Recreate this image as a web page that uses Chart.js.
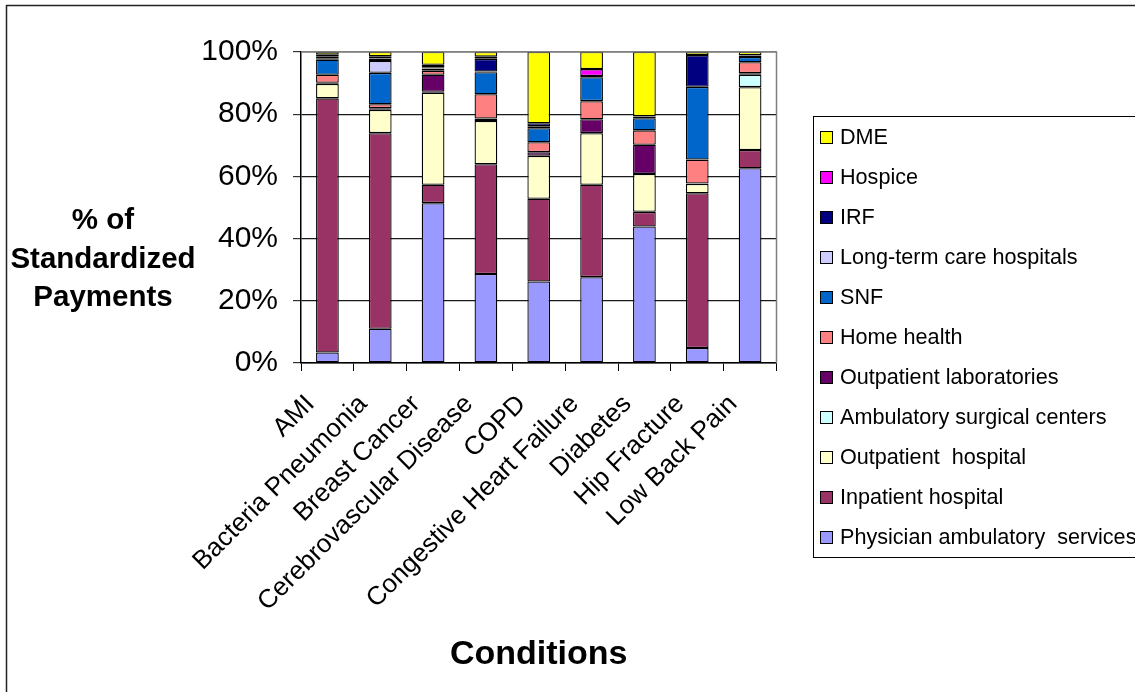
<!DOCTYPE html>
<html>
<head>
<meta charset="utf-8">
<script src="https://cdn.jsdelivr.net/npm/chart.js@4/dist/chart.umd.min.js"></script>
<style>
  html, body { margin: 0; padding: 0; background: #fff; overflow: hidden; }
  #wrap { width: 1135px; height: 692px; position: relative; }
</style>
</head>
<body>
<div id="wrap"><canvas id="c" width="1135" height="692"></canvas></div>
<script>
// Conditions on the x axis
const categories = ['AMI', 'Bacteria Pneumonia', 'Breast Cancer', 'Cerebrovascular Disease', 'COPD',
  'Congestive Heart Failure', 'Diabetes', 'Hip Fracture', 'Low Back Pain'];

// Share of standardized payments (%) by service, per condition
const physicianAmbulatory = [3.4, 11.0, 51.4, 28.6, 26.2, 27.6, 43.9, 4.8, 62.6];
const inpatientHospital   = [81.7, 62.9, 5.9, 35.3, 26.6, 29.7, 4.7, 49.8, 5.9];
const outpatientHospital  = [4.6, 7.5, 29.6, 13.9, 13.8, 16.6, 12.2, 3.0, 20.2];
const ambulatorySurgical  = [0.1, 0.0, 0.3, 0.0, 0.0, 0.0, 0.0, 0.0, 4.0];
const outpatientLabs      = [0.3, 0.5, 5.5, 0.8, 1.2, 4.5, 9.4, 0.1, 0.5];
const homeHealth          = [2.6, 1.3, 1.3, 7.8, 3.2, 5.8, 4.6, 7.7, 3.5];
const snf                 = [4.8, 10.1, 0.6, 7.1, 4.5, 7.7, 3.9, 23.4, 1.7];
const longTermCare        = [0.3, 3.8, 0.2, 0.2, 0.6, 0.0, 0.0, 0.0, 0.0];
const irf                 = [0.8, 0.8, 0.3, 4.1, 1.0, 0.4, 0.6, 10.2, 0.5];
const hospice             = [0.5, 0.7, 0.8, 0.7, 0.0, 2.2, 0.0, 0.0, 0.0];
const dme                 = [0.9, 1.4, 4.1, 1.5, 22.9, 5.5, 20.7, 1.0, 1.1];

// Axis tick values and titles
const yTickValues = [0, 20, 40, 60, 80, 100];
const yTitleLines = ['% of', 'Standardized', 'Payments'];
const xTitle = 'Conditions';

const FONT = '"Liberation Sans", Arial, Helvetica, sans-serif';

function ds(label, data, color) {
  return {
    label, data,
    backgroundColor: color,
    borderColor: '#000',
    borderWidth: 1.3,
    borderSkipped: false,
    categoryPercentage: 1.0,
    barPercentage: 0.43
  };
}

const datasets = [
  ds('Physician ambulatory  services', physicianAmbulatory, '#9999FF'),
  ds('Inpatient hospital', inpatientHospital, '#993366'),
  ds('Outpatient  hospital', outpatientHospital, '#FFFFCC'),
  ds('Ambulatory surgical centers', ambulatorySurgical, '#CCFFFF'),
  ds('Outpatient laboratories', outpatientLabs, '#660066'),
  ds('Home health', homeHealth, '#FF8080'),
  ds('SNF', snf, '#0066CC'),
  ds('Long-term care hospitals', longTermCare, '#CCCCFF'),
  ds('IRF', irf, '#000080'),
  ds('Hospice', hospice, '#FF00FF'),
  ds('DME', dme, '#FFFF00')
];

// Outer frame, plot-area border, horizontal y title and boxed legend
const decorations = {
  id: 'decorations',
  beforeDraw(chart) {
    const ctx = chart.ctx;
    ctx.save();
    ctx.fillStyle = '#fff';
    ctx.fillRect(0, 0, chart.width, chart.height);
    ctx.strokeStyle = '#222';
    ctx.lineWidth = 1.5;
    ctx.beginPath();
    ctx.moveTo(6, 5.5); ctx.lineTo(chart.width, 5.5);
    ctx.moveTo(6.5, 5); ctx.lineTo(6.5, chart.height);
    ctx.stroke();
    ctx.restore();
  },
  afterDraw(chart) {
    const ctx = chart.ctx;
    const a = chart.chartArea;
    ctx.save();
    // plot area border (top and right)
    ctx.strokeStyle = '#808080';
    ctx.lineWidth = 1.5;
    ctx.beginPath();
    ctx.moveTo(a.left, a.top); ctx.lineTo(a.right, a.top); ctx.lineTo(a.right, a.bottom);
    ctx.stroke();

    // y-axis title, horizontal and centred
    ctx.fillStyle = '#000';
    ctx.font = 'bold 29.5px ' + FONT;
    ctx.textAlign = 'center';
    ctx.textBaseline = 'middle';
    yTitleLines.forEach((t, i) => ctx.fillText(t, 103, 221 + i * 38.5));

    // legend box
    ctx.strokeStyle = '#000';
    ctx.lineWidth = 1;
    ctx.strokeRect(813.5, 116.5, 400, 441);
    ctx.font = '21.6px ' + FONT;
    ctx.textAlign = 'left';
    const items = chart.data.datasets.slice().reverse();
    items.forEach((d, i) => {
      const y = 137 + i * 40;
      ctx.fillStyle = d.backgroundColor;
      ctx.fillRect(820, y - 6, 13, 13);
      ctx.strokeStyle = '#000';
      ctx.strokeRect(820.5, y - 5.5, 12, 12);
      ctx.fillStyle = '#000';
      ctx.fillText(d.label, 840, y + 1);
    });
    ctx.restore();
  }
};

new Chart(document.getElementById('c'), {
  type: 'bar',
  data: { labels: categories, datasets },
  plugins: [decorations],
  options: {
    responsive: false,
    animation: false,
    devicePixelRatio: 1,
    layout: { padding: { left: 0, right: 358.5, top: 52, bottom: 0 } },
    plugins: { legend: { display: false }, tooltip: { enabled: false } },
    scales: {
      x: {
        stacked: true,
        grid: { display: true, drawOnChartArea: false, drawTicks: true, tickLength: 8, color: '#000', lineWidth: 1, offset: true },
        border: { display: true, color: '#000', width: 1.5 },
        ticks: { color: '#000', font: { family: FONT, size: 26 }, maxRotation: 45, minRotation: 45, padding: 18, labelOffset: -17, autoSkip: false },
        title: { display: true, text: xTitle, color: '#000', font: { family: FONT, size: 34, weight: 'bold' }, padding: { top: 0, bottom: 17 } },
        afterFit(s) { s.height = 692 - 363; }
      },
      y: {
        stacked: true,
        min: 0, max: 100,
        afterBuildTicks(s) { s.ticks = yTickValues.map(v => ({ value: v })); },
        grid: {
          color: (c) => (c.tick && c.tick.value === 100 ? '#808080' : '#1a1a1a'),
          lineWidth: 1.2, drawTicks: true, tickLength: 8, tickColor: '#333'
        },
        border: { display: true, color: '#000', width: 1.5 },
        ticks: { color: '#000', font: { family: FONT, size: 30 }, padding: 15, callback: (v) => v + '%' },
        afterFit(s) { s.width = 301; }
      }
    }
  }
});
</script>
</body>
</html>
